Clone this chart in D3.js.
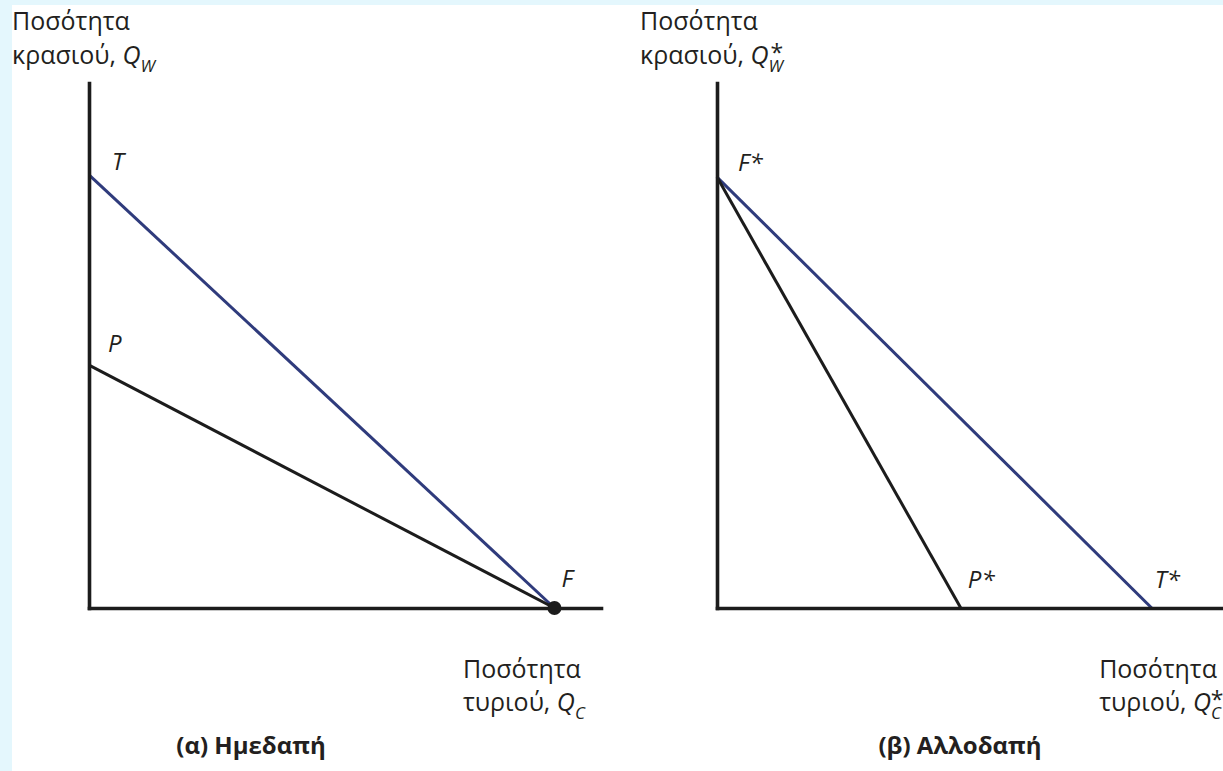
<!DOCTYPE html>
<html>
<head>
<meta charset="utf-8">
<script src="https://cdn.jsdelivr.net/npm/d3@7"></script>
<style>
  html, body { margin: 0; padding: 0; background: #fff; }
  svg { display: block; }
  text { font-family: "Open Sans", "Noto Sans", sans-serif; fill: #231f20; }
</style>
</head>
<body>
<div id="chart"></div>
<script>
// values (arbitrary units)
const panelTitles = ["(α) Ημεδαπή", "(β) Αλλοδαπή"];
const homeNames = ["T", "P"];
const homeWine = [9.9, 5.55];     // where each line meets the wine axis
const homeCheese = [10, 10];      // where each line meets the cheese axis
const foreignNames = ["T*", "P*"];
const foreignWine = [9.85, 9.85];
const foreignCheese = [9.45, 5.3];
const homePoint = ["F", 10, 0];       // dot on the cheese axis
const foreignPoint = ["F*", 0, 9.85]; // corner label on the wine axis

const W = 1223, H = 771;
const navy = "#2f3b7c", ink = "#1c1c1c";

const svg = d3.select("#chart").append("svg")
    .attr("width", W)
    .attr("height", H);

svg.append("rect").attr("width", W).attr("height", H).attr("fill", "#fff");
svg.append("rect").attr("width", W).attr("height", 5).attr("fill", "#e4f7fd");
svg.append("rect").attr("width", 12).attr("height", H).attr("fill", "#e4f7fd");

const panels = [
    { left: 89, right: 601, names: homeNames, wine: homeWine, cheese: homeCheese,
      yLabelX: 12, xLabelX: 463, titleX: 251, star: "",
      labelOff: [[23, -5], [19, -13]] },
    { left: 717, right: 1223, names: foreignNames, wine: foreignWine, cheese: foreignCheese,
      yLabelX: 640, xLabelX: null, titleX: 960, star: "*",
      labelOff: [[3, -20], [7, -20]] }
];
const yBottom = 608, yTop = 83;
const labelSize = 25;

// label with an italic Q and a subscript, optional asterisk above it
// returns the x where it ends
function qLabel(g, x, y, word, sub, star) {
    const t = g.append("text").attr("x", x).attr("y", y).style("font-size", labelSize + "px");
    t.append("tspan").text(word);
    t.append("tspan").style("font-style", "italic").text("Q");
    const len = t.node().getComputedTextLength();
    const s = g.append("text")
        .attr("x", x + len)
        .attr("y", y + 8)
        .style("font-size", "17px")
        .style("font-style", "italic")
        .text(sub);
    const sl = s.node().getComputedTextLength();
    if (star) {
        g.append("text")
            .attr("x", x + len + sl / 2 + 1)
            .attr("y", y - 3)
            .attr("text-anchor", "middle")
            .style("font-size", "23px")
            .text("*");
    }
    return x + len + sl;
}

panels.forEach((p, i) => {
    const g = svg.append("g");
    const x = d3.scaleLinear().domain([0, 11]).range([p.left, p.right]);
    const y = d3.scaleLinear().domain([0, 12]).range([yBottom, yTop]);

    const line = d3.line().x(d => x(d[0])).y(d => y(d[1]));

    // budget lines
    p.names.forEach((name, j) => {
        g.append("path")
            .attr("d", line([[0, p.wine[j]], [p.cheese[j], 0]]))
            .attr("fill", "none")
            .attr("stroke", name.startsWith("T") ? navy : ink)
            .attr("stroke-width", 3);
    });

    // axes without ticks
    g.append("g").attr("transform", `translate(${p.left},0)`)
        .call(d3.axisLeft(y).tickValues([]).tickSizeOuter(0));
    g.append("g").attr("transform", `translate(0,${yBottom})`)
        .call(d3.axisBottom(x).tickValues([]).tickSizeOuter(0));
    g.selectAll(".domain")
        .attr("stroke", ink)
        .attr("stroke-width", 3.6)
        .attr("stroke-linecap", "square");

    // line labels
    p.names.forEach((name, j) => {
        const atAxisY = i === 0;
        const px = atAxisY ? x(0) : x(p.cheese[j]);
        const py = atAxisY ? y(p.wine[j]) : y(0);
        g.append("text")
            .attr("x", px + p.labelOff[j][0])
            .attr("y", py + p.labelOff[j][1])
            .style("font-size", "24px")
            .style("font-style", "italic")
            .text(name);
    });

    // axis titles
    g.append("text").attr("x", p.yLabelX).attr("y", 30)
        .style("font-size", labelSize + "px").text("Ποσότητα");
    qLabel(g, p.yLabelX, 64, "κρασιού, ", "W", p.star);

    const xl = g.append("text").attr("y", 678)
        .style("font-size", labelSize + "px").text("Ποσότητα");
    const xq = g.append("g");
    let lx = p.xLabelX;
    if (lx === null) {
        // right panel: sits against the right edge
        const end = qLabel(xq, 0, 711, "τυριού, ", "C", p.star);
        lx = W - 2 - end;
        xq.attr("transform", `translate(${lx},0)`);
    } else {
        qLabel(xq, lx, 711, "τυριού, ", "C", p.star);
    }
    xl.attr("x", lx);

    // panel title
    g.append("text")
        .attr("x", p.titleX)
        .attr("y", 754)
        .attr("text-anchor", "middle")
        .style("font-size", "24px")
        .style("font-weight", "bold")
        .text(panelTitles[i]);

    if (i === 0) {
        g.append("circle")
            .attr("cx", x(homePoint[1]))
            .attr("cy", y(homePoint[2]))
            .attr("r", 7)
            .attr("fill", ink);
        g.append("text")
            .attr("x", x(homePoint[1]) + 7)
            .attr("y", y(homePoint[2]) - 21)
            .style("font-size", "24px")
            .style("font-style", "italic")
            .text(homePoint[0]);
    } else {
        g.append("text")
            .attr("x", x(foreignPoint[1]) + 21)
            .attr("y", y(foreignPoint[2]) - 6)
            .style("font-size", "24px")
            .style("font-style", "italic")
            .text(foreignPoint[0]);
    }
});
</script>
</body>
</html>
